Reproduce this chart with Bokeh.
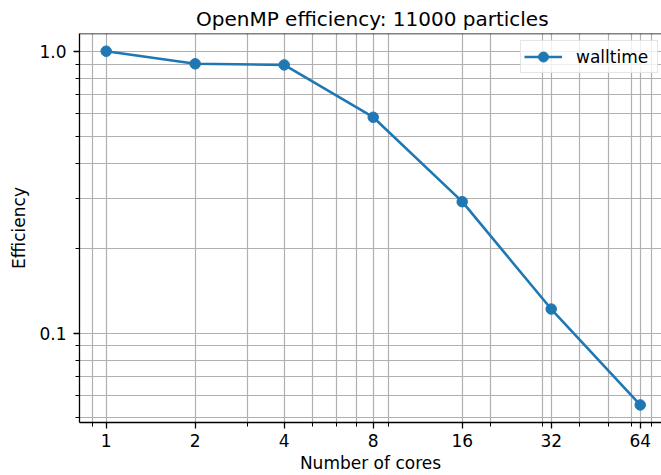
from bokeh.plotting import figure
from bokeh.models import FixedTicker, Range1d, Span, ColumnDataSource
from bokeh.embed import file_html
from bokeh.resources import INLINE

# Data
cores = [1, 2, 4, 8, 16, 32, 64]
efficiency = [1.0, 0.902, 0.894, 0.583, 0.2925, 0.1217, 0.0556]
x_ticks = [1, 2, 4, 8, 16, 32, 64]
x_minor = [0.9, 3, 5, 6, 7, 9, 20, 30, 40, 50, 60, 70]
y_ticks = [0.1, 1.0]
y_labels = ["0.1", "1.0"]
y_minor = [0.05, 0.06, 0.07, 0.08, 0.09, 0.2, 0.3, 0.4, 0.5, 0.6, 0.7, 0.8, 0.9]

FONT = "DejaVu Sans"
BLUE = "#1f77b4"
GRID = "#b0b0b0"

x_start, x_end = 0.8123, 75.54
y_start, y_end = 0.04817, 1.1554

p = figure(width=661, height=475, x_axis_type="log", y_axis_type="log",
           x_range=Range1d(x_start, x_end), y_range=Range1d(y_start, y_end),
           output_backend="svg", toolbar_location=None,
           title="OpenMP efficiency: 11000 particles",
           min_border_left=79, min_border_right=0, min_border_top=33, min_border_bottom=53)
p.outline_line_color = None
p.background_fill_color = "white"

p.title.text_font = FONT
p.title.text_font_size = "20px"
p.title.text_font_style = "normal"
p.title.text_color = "black"
p.title.align = "left"
p.title.offset = 116.5
p.title.standoff = 6

src = ColumnDataSource(dict(x=cores, y=efficiency))
p.line("x", "y", source=src, line_color=BLUE, line_width=2.6, legend_label="walltime")
p.scatter("x", "y", source=src, size=10.5, fill_color=BLUE, line_color=BLUE, legend_label="walltime")

xt = FixedTicker(ticks=x_ticks, minor_ticks=x_minor)
yt = FixedTicker(ticks=y_ticks, minor_ticks=y_minor)

for ax, t in ((p.xaxis[0], xt), (p.yaxis[0], yt)):
    ax.ticker = t
    ax.axis_line_color = "black"
    ax.axis_line_width = 1.3
    ax.major_tick_line_color = "black"
    ax.major_tick_line_width = 1.3
    ax.major_tick_out = 6
    ax.major_tick_in = 0
    ax.minor_tick_line_color = "black"
    ax.minor_tick_line_width = 1.0
    ax.minor_tick_out = 4
    ax.minor_tick_in = 0
    ax.major_label_text_font = FONT
    ax.major_label_text_font_size = "17px"
    ax.major_label_text_color = "black"
    ax.axis_label_text_font = FONT
    ax.axis_label_text_font_size = "17px"
    ax.axis_label_text_font_style = "normal"
    ax.axis_label_text_color = "black"

p.xaxis.major_label_standoff = 5
p.yaxis.major_label_standoff = 7
p.xaxis.major_label_overrides = {v: str(v) for v in x_ticks}
p.yaxis.major_label_overrides = {v: l for v, l in zip(y_ticks, y_labels)}
p.xaxis.axis_label = "Number of cores"
p.yaxis.axis_label = "Efficiency"
p.xaxis.axis_label_standoff = 3
p.yaxis.axis_label_standoff = 7

for g, t in ((p.xgrid[0], xt), (p.ygrid[0], yt)):
    g.ticker = t
    g.grid_line_color = GRID
    g.grid_line_width = 1.2
    g.minor_grid_line_color = GRID
    g.minor_grid_line_width = 1.2

# top spine
p.add_layout(Span(location=y_end, dimension="width", line_color="black", line_width=1.3))

lg = p.legend[0]
lg.location = (441, 349)
lg.label_text_font = FONT
lg.label_text_font_size = "17px"
lg.label_text_color = "black"
lg.border_line_color = "#cccccc"
lg.border_line_width = 1
lg.background_fill_alpha = 0.8
lg.padding = 3
lg.margin = 0
lg.glyph_width = 38
lg.glyph_height = 25
lg.label_height = 25
lg.label_width = 78
lg.label_standoff = 14

open("out.html", "w").write(file_html(p, INLINE))
